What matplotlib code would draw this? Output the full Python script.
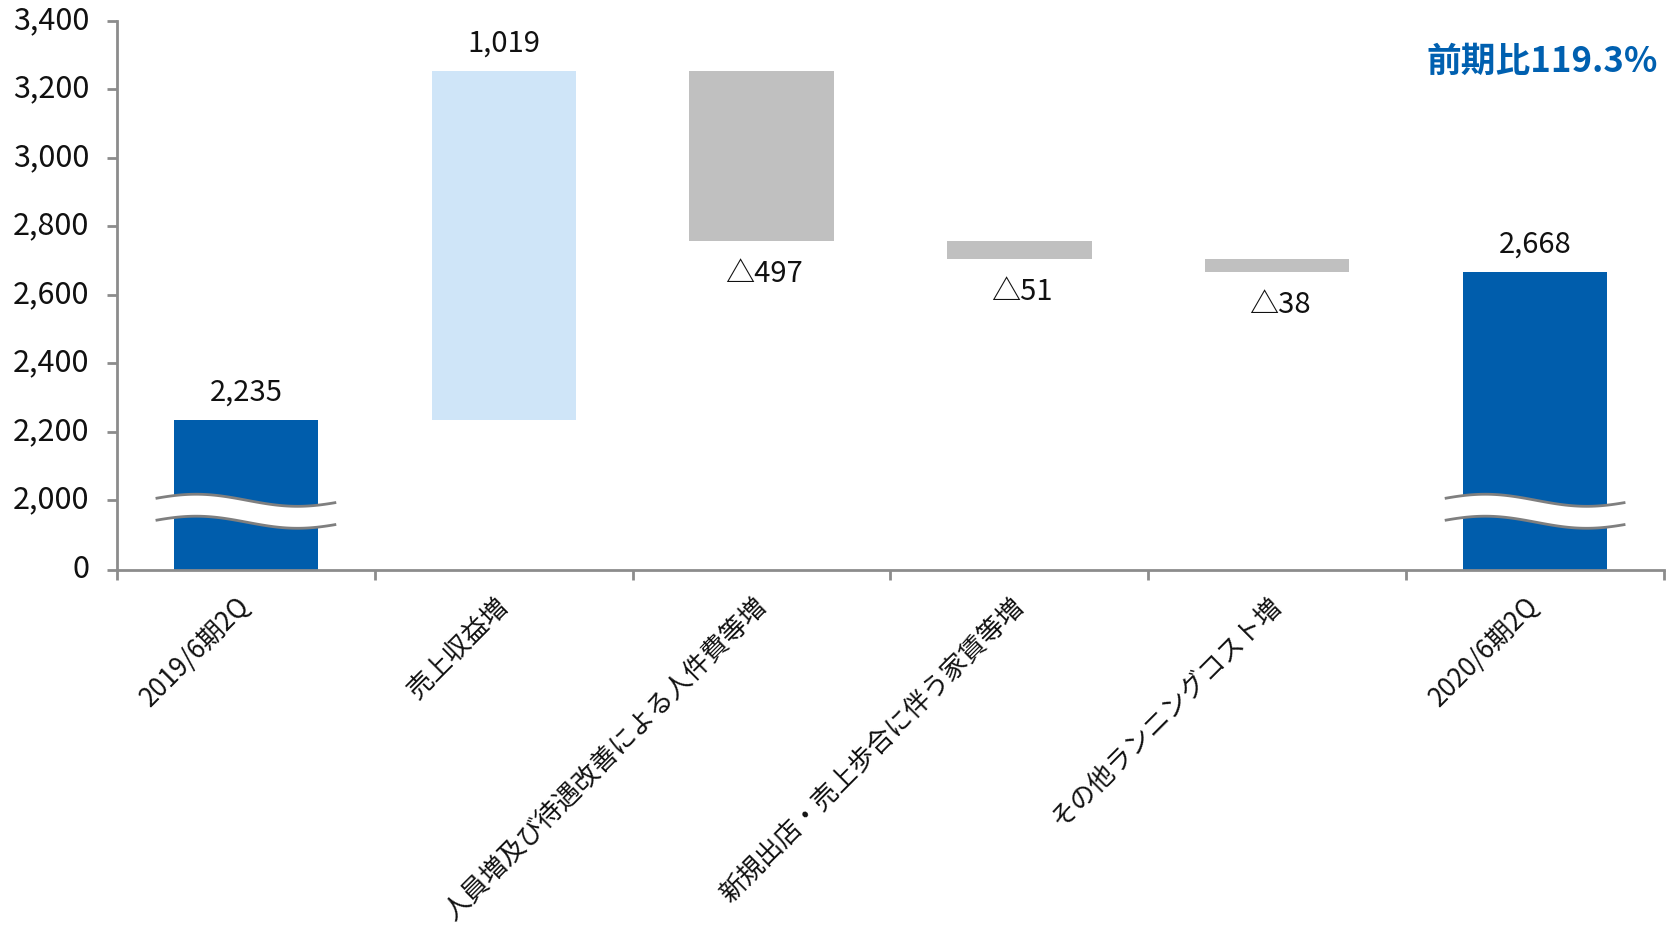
import numpy as np
import matplotlib
matplotlib.use('Agg')
import matplotlib.pyplot as plt
from matplotlib.patches import Polygon
from matplotlib.transforms import blended_transform_factory, ScaledTranslation

plt.rcParams['font.family'] = ['Noto Sans CJK JP', 'DejaVu Sans']

# ---- data ----
categories = ['2019/6期2Q', '売上収益増', '人員増及び待遇改善による人件費等増',
              '新規出店・売上歩合に伴う家賃等増', 'その他ランニングコスト増', '2020/6期2Q']
start_value = 2235
deltas = [1019, -497, -51, -38]
end_value = 2668
ytick_values = [0, 2000, 2200, 2400, 2600, 2800, 3000, 3200, 3400]
ytick_labels = ['0', '2,000', '2,200', '2,400', '2,600', '2,800', '3,000', '3,200', '3,400']
ratio_text = '前期比119.3%'

BLUE = '#005DAC'
LIGHT = '#CFE5F8'
GRAY = '#C0C0C0'
AXCOL = '#8C8C8C'

# broken-axis scale: 0..2000 compressed
G = 1797.0
def fwd(y):
    y = np.asarray(y, dtype=float)
    return np.where(y >= 2000, y, G + y * (2000 - G) / 2000.0)
def inv(z):
    z = np.asarray(z, dtype=float)
    return np.where(z >= 2000, z, (z - G) * 2000.0 / (2000 - G))

fig = plt.figure(figsize=(16.66, 9.36), dpi=100)
ax = fig.add_axes([117/1666, 1 - 570/936, (1664-117)/1666, (570-21)/936])
ax.set_yscale('function', functions=(fwd, inv))

# compute waterfall
bottoms, heights, colors, labels = [], [], [], []
bottoms.append(0); heights.append(start_value); colors.append(BLUE)
labels.append(f'{start_value:,}')
level = start_value
for d in deltas:
    if d >= 0:
        bottoms.append(level); heights.append(d); colors.append(LIGHT)
        labels.append(f'{d:,}')
    else:
        bottoms.append(level + d); heights.append(-d); colors.append(GRAY)
        labels.append(f'△{-d:,}')
    level += d
bottoms.append(0); heights.append(end_value); colors.append(BLUE)
labels.append(f'{end_value:,}')

x = np.arange(len(categories))
width = 0.56
ax.bar(x, heights, bottom=bottoms, width=width, color=colors, linewidth=0, zorder=2)

# value labels
vals = [start_value] + deltas + [end_value]
for i, (b, h, v, lab) in enumerate(zip(bottoms, heights, vals, labels)):
    if v >= 0:
        ax.annotate(lab, (x[i], b + h), xytext=(0, 9), textcoords='offset points',
                    ha='center', va='bottom', fontsize=21, color='#111111')
    else:
        ax.annotate(lab, (x[i], b), xytext=(2, -13), textcoords='offset points',
                    ha='center', va='top', fontsize=21, color='#111111')

# break marks on the two total bars
trans = blended_transform_factory(ax.transData, ax.transAxes)
t = np.linspace(0, 1, 120)
for i in (0, len(categories) - 1):
    hw = 0.345
    xs = x[i] - hw + 2 * hw * t
    ytop = 0.127 + 0.011 * np.cos(2 * np.pi * (t - 0.22) / 1.14)
    ybot = ytop - 0.040
    poly = Polygon(np.column_stack([np.r_[xs, xs[::-1]], np.r_[ytop, ybot[::-1]]]),
                   closed=True, facecolor='white', edgecolor='none',
                   transform=trans, zorder=4, clip_on=False)
    ax.add_patch(poly)
    ax.plot(xs, ytop, color='#7F7F7F', lw=2.0, transform=trans, zorder=5, clip_on=False)
    ax.plot(xs, ybot, color='#7F7F7F', lw=2.0, transform=trans, zorder=5, clip_on=False)

ax.set_xlim(-0.5, len(categories) - 0.5)
ax.set_ylim(0, 3400)

# axes styling
for s in ('top', 'right'):
    ax.spines[s].set_visible(False)
for s in ('left', 'bottom'):
    ax.spines[s].set_color(AXCOL)
    ax.spines[s].set_linewidth(2)

ax.set_yticks(ytick_values)
ax.set_yticklabels(ytick_labels)
ax.yaxis.set_minor_locator(matplotlib.ticker.NullLocator())
ax.tick_params(axis='y', which='major', length=7, width=2, color=AXCOL,
               labelsize=22, pad=13, labelcolor='#111111')
shift = ScaledTranslation(0, 4/100, fig.dpi_scale_trans)
for lab in ax.get_yticklabels():
    lab.set_transform(lab.get_transform() + shift)

ax.set_xticks(np.arange(len(categories) + 1) - 0.5)
ax.set_xticklabels([])
ax.set_xticks(x, minor=True)
ax.set_xticklabels(categories, minor=True, rotation=45, ha='right',
                   va='center', rotation_mode='anchor', fontsize=18.8, color='#111111')
ax.tick_params(axis='x', which='major', length=7, width=2, color=AXCOL)
ax.tick_params(axis='x', which='minor', length=0, pad=23)

fig.text(1658/1666, 1 - 61/936, ratio_text, ha='right', va='center',
         fontsize=25, fontweight='bold', color='#0060B0')

fig.savefig('out.png', dpi=100)
